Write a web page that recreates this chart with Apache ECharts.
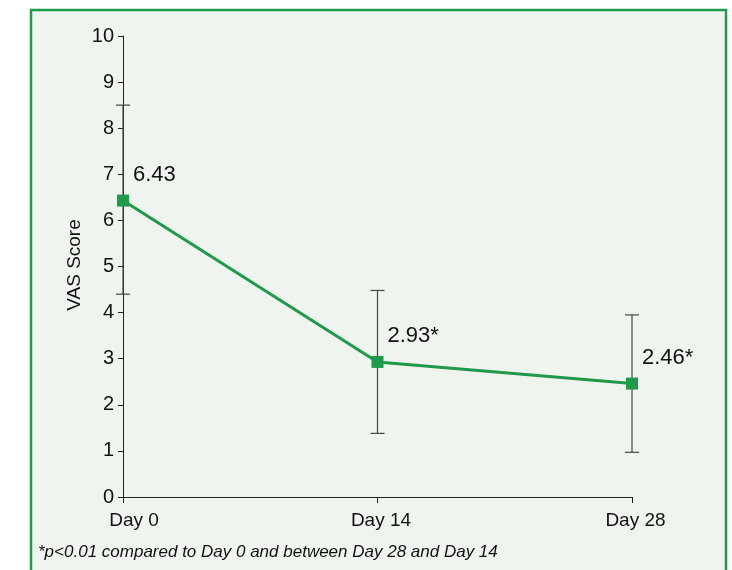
<!DOCTYPE html>
<html>
<head>
<meta charset="utf-8">
<script src="https://cdn.jsdelivr.net/npm/echarts@6/dist/echarts.min.js"></script>
<style>
html,body{margin:0;padding:0;background:#ffffff;}
#chart{width:732px;height:570px;}
</style>
</head>
<body>
<div id="chart"></div>
<script>
const categories = ['Day 0', 'Day 14', 'Day 28'];
const vasMean = [6.43, 2.93, 2.46];
const errLow = [4.40, 1.38, 0.97];
const errHigh = [8.50, 4.48, 3.95];
const pointLabels = ['6.43', '2.93*', '2.46*'];
const yTicks = [0, 1, 2, 3, 4, 5, 6, 7, 8, 9, 10];
const yAxisTitle = 'VAS Score';
const footnote = '*p<0.01 compared to Day 0 and between Day 28 and Day 14';

const FONT = '"Liberation Sans Narrow", "Liberation Sans", Arial, sans-serif';
const GREEN = '#1f9a4a';

const chart = echarts.init(document.getElementById('chart'));
const errData = categories.map((c, i) => [i, errLow[i], errHigh[i]]);

chart.setOption({
  animation: false,
  backgroundColor: '#ffffff',
  graphic: [
    {type: 'rect', z: -10, shape: {x: 31, y: 10, width: 695, height: 580},
     style: {fill: '#f0f4ef', stroke: GREEN, lineWidth: 2.5}},
    {type: 'text', x: 75, y: 265, rotation: Math.PI / 2,
     style: {text: yAxisTitle, font: '19px ' + FONT, fill: '#111', align: 'center', verticalAlign: 'middle'}},
    {type: 'text', left: 38, top: 544,
     style: {text: footnote, font: 'italic 17px ' + FONT, fill: '#111'}}
  ],
  grid: {left: 123, right: 100, top: 36, bottom: 73, containLabel: false},
  xAxis: {
    type: 'category', data: categories, boundaryGap: false,
    axisLine: {lineStyle: {color: '#222', width: 1}},
    axisTick: {show: true, alignWithLabel: true, length: 6, lineStyle: {color: '#222'}},
    axisLabel: {
      color: '#111', fontSize: 19, fontFamily: FONT, margin: 14,
      formatter: function (v, i) { return (i === 0 ? '{f|' : '{n|') + v + '}'; },
      rich: {
        f: {fontSize: 19, fontFamily: FONT, color: '#111', padding: [0, 0, 0, 22]},
        n: {fontSize: 19, fontFamily: FONT, color: '#111', padding: [0, 0, 0, 7]}
      }
    },
    splitLine: {show: false}
  },
  yAxis: {
    type: 'value', min: yTicks[0], max: yTicks[yTicks.length - 1], interval: 1,
    axisLine: {show: true, lineStyle: {color: '#222', width: 1}},
    axisTick: {show: true, length: 5, lineStyle: {color: '#222'}},
    axisLabel: {color: '#111', fontSize: 20, fontFamily: FONT, margin: 9},
    splitLine: {show: false}
  },
  series: [
    {
      type: 'custom',
      data: errData,
      z: 3,
      renderItem: function (params, api) {
        const x = api.coord([api.value(0), api.value(1)])[0];
        const lo = api.coord([api.value(0), api.value(1)])[1];
        const hi = api.coord([api.value(0), api.value(2)])[1];
        const w = 7;
        const st = {stroke: '#444', lineWidth: 1.2};
        return {
          type: 'group',
          children: [
            {type: 'line', shape: {x1: x, y1: hi, x2: x, y2: lo}, style: st},
            {type: 'line', shape: {x1: x - w, y1: hi, x2: x + w, y2: hi}, style: st},
            {type: 'line', shape: {x1: x - w, y1: lo, x2: x + w, y2: lo}, style: st}
          ]
        };
      }
    },
    {
      type: 'line',
      data: vasMean,
      z: 5,
      symbol: 'rect',
      symbolSize: 12,
      itemStyle: {color: GREEN},
      lineStyle: {color: GREEN, width: 3},
      label: {
        show: true,
        position: 'right',
        offset: [-1, -26],
        color: '#111',
        fontSize: 22,
        fontFamily: 'Liberation Sans, Arial, sans-serif',
        formatter: function (p) { return pointLabels[p.dataIndex]; }
      }
    }
  ]
});
</script>
</body>
</html>
